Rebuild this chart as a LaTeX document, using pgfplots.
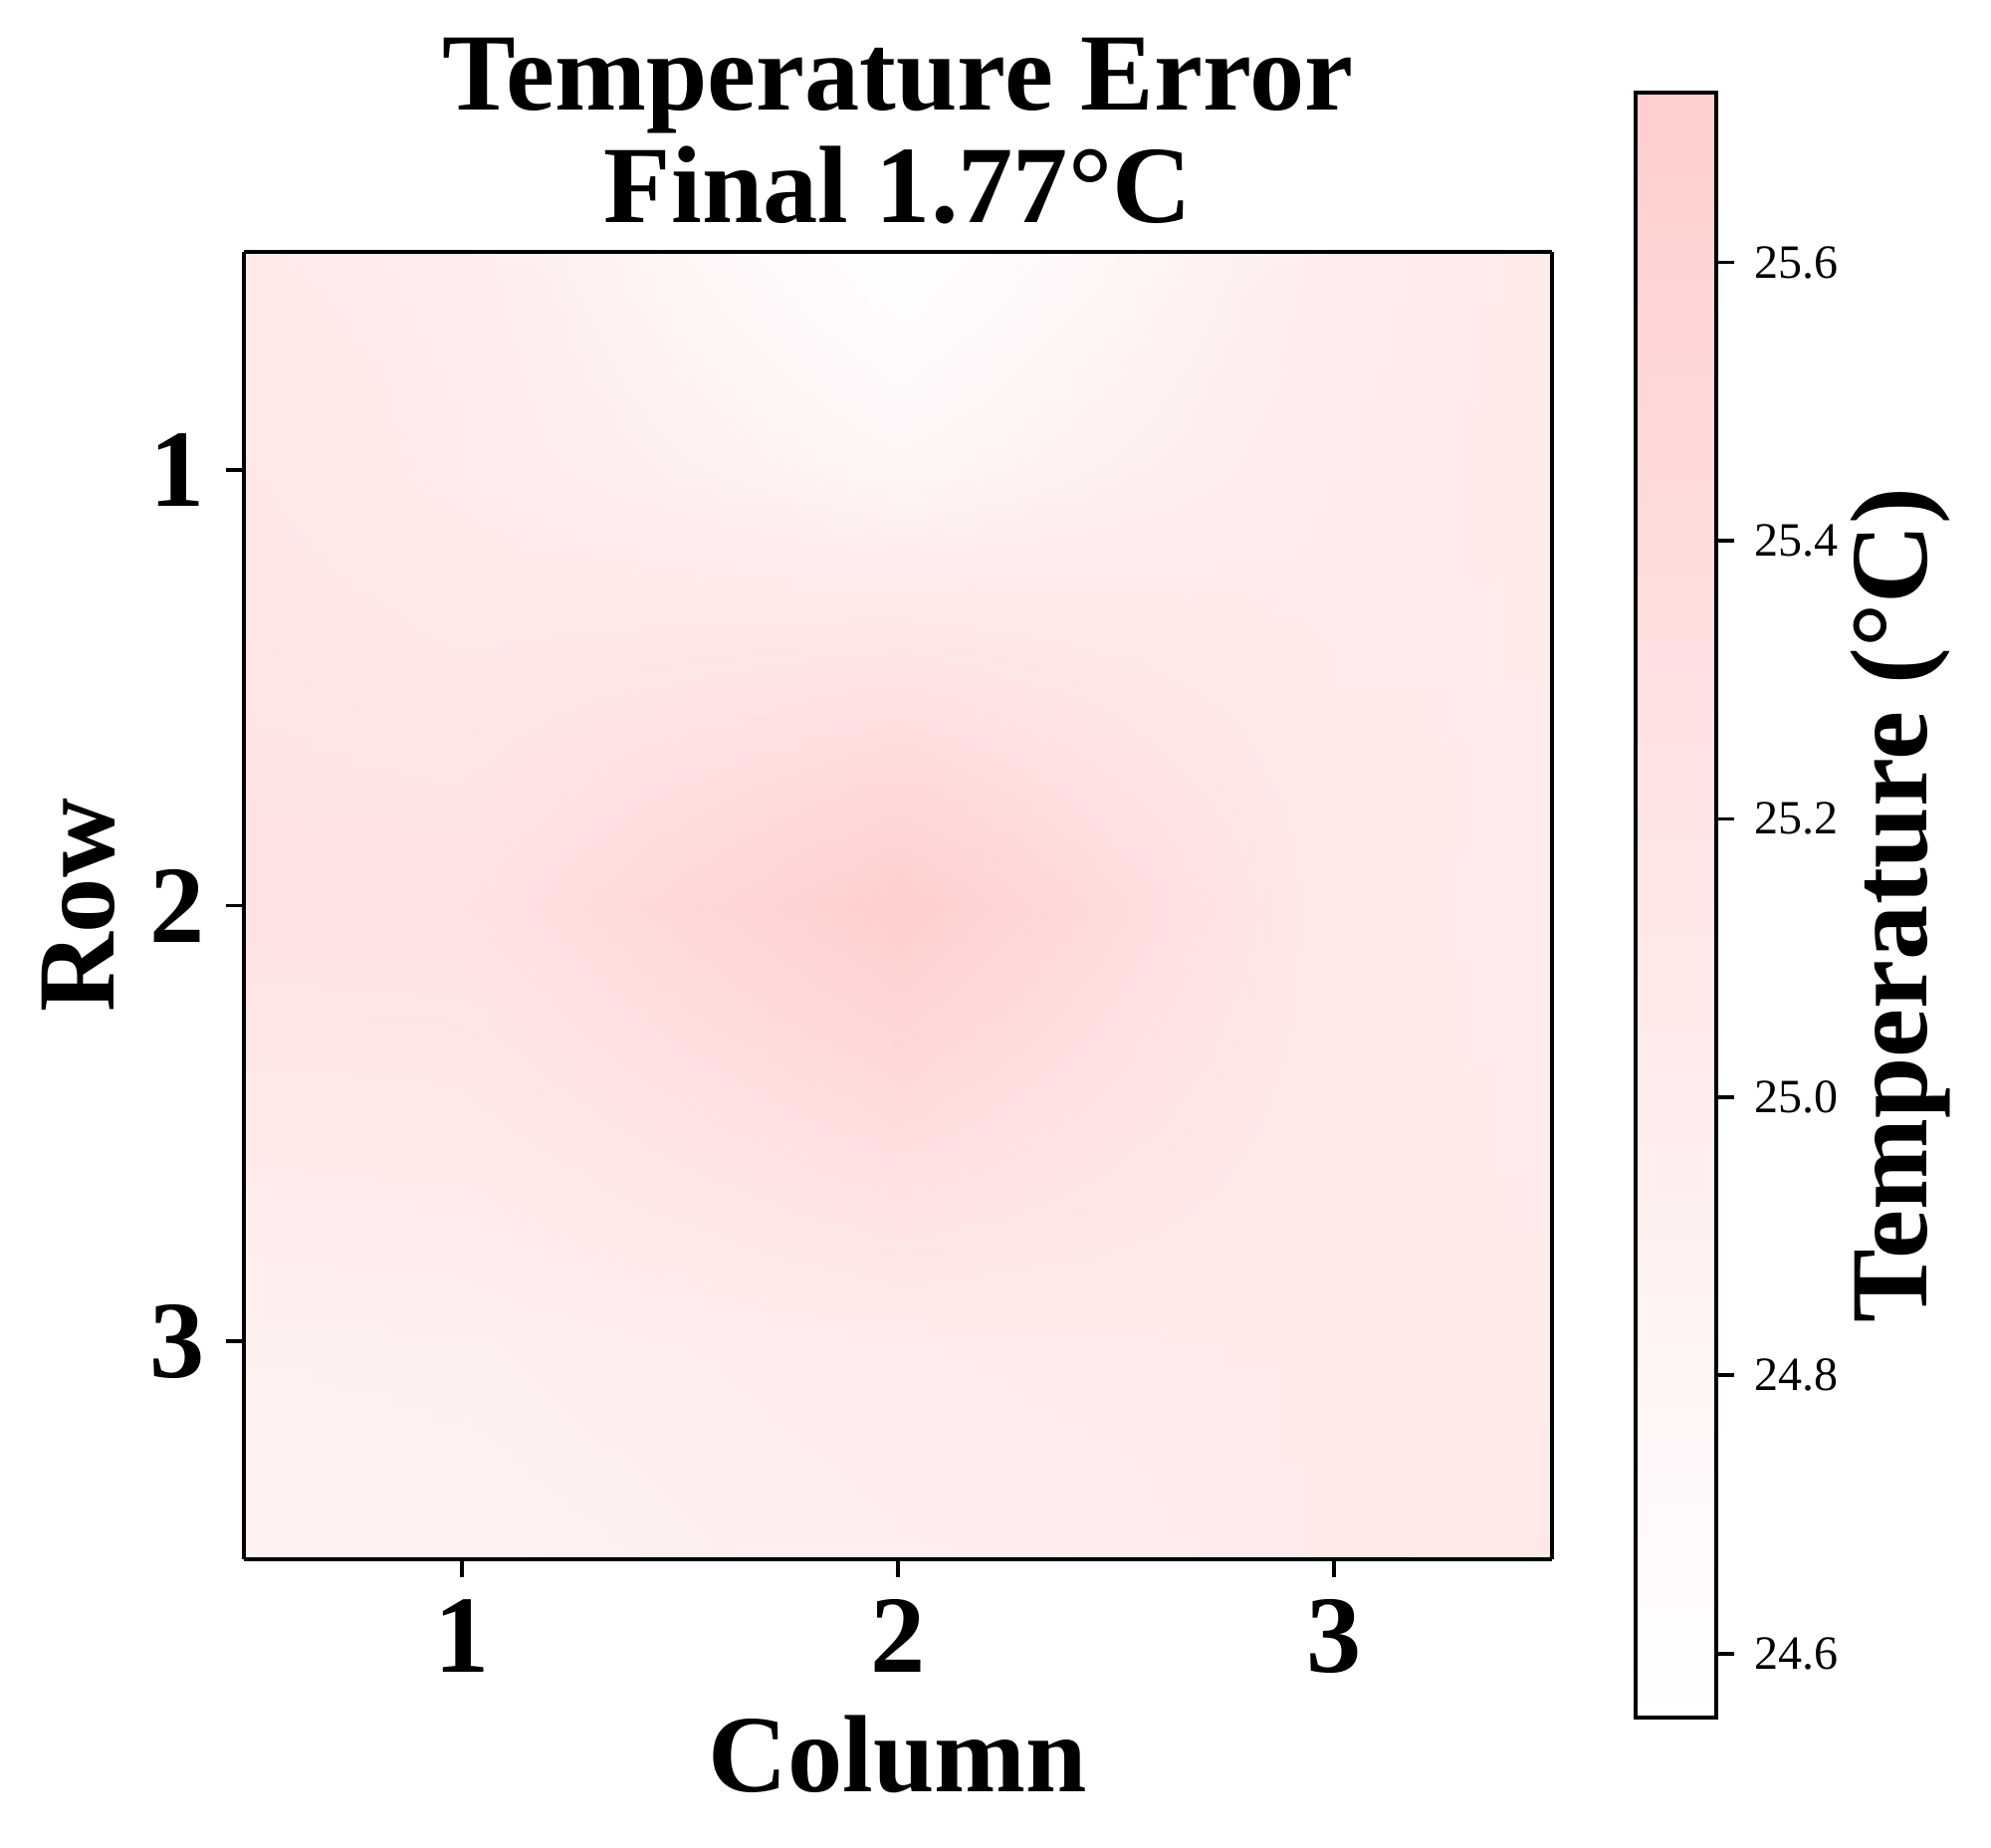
\documentclass[border=0pt]{standalone}
\usepackage{pgfplots}
\usepackage{pgfplotstable}
\pgfplotsset{compat=1.18}
\usepgfplotslibrary{patchplots}
\usepackage{fontspec}
\setmainfont{Liberation Serif}

% temperature field: cell centres 1..3, edges 0.5 and 3.5
\pgfplotstableread{
x   y   t
0.5 0.5 25.05
1   0.5 25.00
2   0.5 24.56
3   0.5 25.00
3.5 0.5 25.06
0.5 1   25.12
1   1   25.02
2   1   24.80
3   1   25.02
3.5 1   25.06
0.5 2   25.24
1   2   25.25
2   2   25.72
3   2   25.07
3.5 2   25.02
0.5 3   24.90
1   3   24.92
2   3   25.02
3   3   25.05
3.5 3   25.05
0.5 3.5 24.86
1   3.5 24.86
2   3.5 24.96
3   3.5 25.05
3.5 3.5 25.10
}\tempgrid

\begin{document}
\begin{tikzpicture}
\begin{axis}[
    name=main,
    scale only axis,
    width=328.5pt, height=328.25pt,
    view={0}{90},
    xmin=0.5, xmax=3.5, ymin=0.5, ymax=3.5,
    y dir=reverse,
    xtick={1,2,3}, ytick={1,2,3},
    xtick pos=lower, ytick pos=left,
    tick align=outside,
    major tick length=4.5pt,
    every tick/.style={black, line width=0.9pt},
    axis line style={line width=0.9pt},
    ticklabel style={font=\bfseries\fontsize{27.6}{28}\selectfont},
    xticklabel style={inner sep=5.4pt},
    yticklabel style={inner sep=5pt},
    /pgf/number format/assume math mode=true,
    xlabel={Column}, ylabel={Row},
    xlabel shift=1.55pt, ylabel shift=0.25pt,
    label style={font=\bfseries\fontsize{27.6}{28}\selectfont},
    title={Temperature Error\\Final 1.77°C},
    title style={font=\bfseries\fontsize{27.6}{28.25}\selectfont, align=center, yshift=-2.5pt},
    colormap={pinkmap}{rgb255(0cm)=(255,255,255); rgb255(1cm)=(255,206,206)},
    point meta min=24.554, point meta max=25.722,
    colorbar,
    colorbar/width=20.25pt,
    colorbar style={
        at={(parent axis.north east)}, anchor=north west,
        xshift=12.5pt, yshift=40pt,
        height=408pt,
        ytick={24.6,24.8,...,25.6},
        ytick pos=right, yticklabel pos=right,
        tick align=outside,
        major tick length=4.4pt,
        every tick/.style={black, line width=0.9pt},
        axis line style={line width=0.9pt},
        yticklabel style={font=\fontsize{12}{12}\selectfont, inner sep=5pt,
            /pgf/number format/.cd, fixed, fixed zerofill, precision=1,
            assume math mode=true},
        ylabel={Temperature (°C)},
        ylabel shift=-5.5pt,
        ylabel style={font=\bfseries\fontsize{27.6}{28}\selectfont},
    },
]
\addplot3[surf, shader=interp, patch type=bilinear,
    mesh/rows=5, mesh/cols=5, mesh/ordering=x varies]
    table[x=x, y=y, z=t] {\tempgrid};
\end{axis}
\path (main.south west) ++(-61.25pt,-72.25pt) rectangle ++(500pt,463.75pt);
\end{tikzpicture}
\end{document}
